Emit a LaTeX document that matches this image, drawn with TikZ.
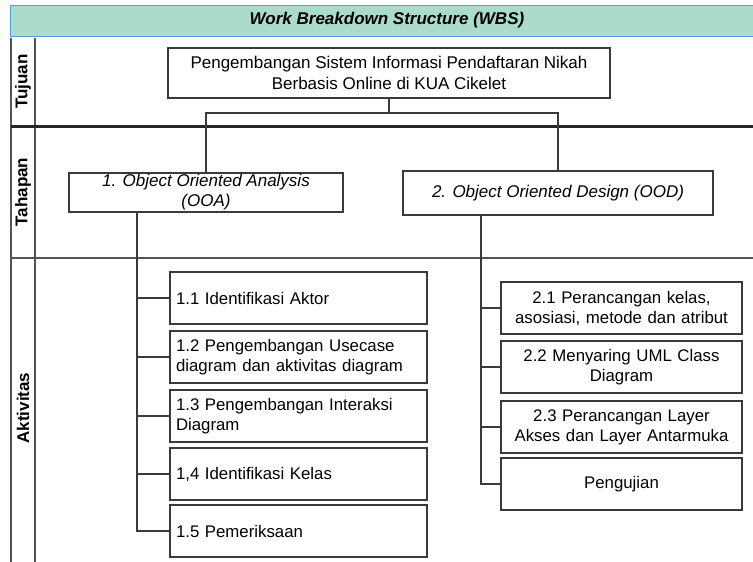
\documentclass[tikz,border=0pt]{standalone}
\usepackage{fontspec}
\setmainfont{Liberation Sans}
\definecolor{hdrfill}{HTML}{AADBCB}
\definecolor{hdrline}{HTML}{5B9BD5}
\definecolor{lanegray}{HTML}{555555}
\definecolor{boxline}{HTML}{3A3A3A}
\begin{document}
\begin{tikzpicture}[x=1pt,y=-1pt,
  every node/.style={font=\fontsize{17}{20.5}\selectfont, inner sep=0pt},
  box/.style={draw=boxline, line width=1.4pt, fill=white, inner sep=0pt},
  actl/.style={box, minimum height=52pt, text width=245pt, inner xsep=6pt, align=left, font=\fontsize{16.8}{19.8}\selectfont},
  actr/.style={box, minimum height=52pt, text width=241pt, align=center, font=\fontsize{16.8}{20}\selectfont},
  conn/.style={draw=boxline, line width=1.3pt},
  lane/.style={draw=lanegray, line width=1.5pt},
  lanelabel/.style={rotate=90, font=\fontsize{17}{20}\selectfont\bfseries}]
\useasboundingbox (0,0) rectangle (753,562);
% header
\path[fill=hdrfill, draw=hdrline, line width=1.6pt] (10.5,5.5) rectangle (756,36.5);
\node[font=\fontsize{17}{20}\selectfont\bfseries\itshape] (title) at (387,20) {Work Breakdown Structure (WBS)};
% lanes
\draw[lane] (11,37.5) -- (11,565);
\draw[lane] (35,37.5) -- (35,565);
\draw[draw=black!85, line width=3pt] (11,126) -- (756,126);
\draw[lane] (11,258) -- (756,258);
\node[lanelabel] (lt) at (23,81.5) {Tujuan};
\node[lanelabel] (lh) at (23,192) {Tahapan};
\node[lanelabel] (la) at (23,408) {Aktivitas};
% top level
\node[box, minimum width=442pt, minimum height=50pt, align=center] (top) at (389,73)
  {Pengembangan Sistem Informasi Pendaftaran Nikah\\Berbasis Online di KUA Cikelet};
\node[box, minimum width=274pt, minimum height=39pt, align=center, font=\fontsize{17}{20}\selectfont\itshape] (ooa) at (206,192.5)
  {1. Object Oriented Analysis\\(OOA)};
\node[box, minimum width=310pt, minimum height=44pt, align=center, font=\fontsize{17}{20}\selectfont\itshape] (ood) at (558,193)
  {2. Object Oriented Design (OOD)};
\coordinate (hy) at (0,113);
\draw[conn] (top.south) -- (top.south |- hy);
\draw[conn] (ooa.north) -- (ooa.north |- hy) -- (ood.north |- hy) -- (ood.north);
% activities OOA
\node[actl] (a1) at (298.5,298) {1.1 Identifikasi Aktor};
\node[actl] (a2) at (298.5,357) {1.2 Pengembangan Usecase\\diagram dan aktivitas diagram};
\node[actl] (a3) at (298.5,416) {1.3 Pengembangan Interaksi\\Diagram};
\node[actl] (a4) at (298.5,474) {1,4 Identifikasi Kelas};
\node[actl] (a5) at (298.5,531) {1.5 Pemeriksaan};
\coordinate (ls) at (137,0);
\draw[conn] (ooa.south -| ls) |- (a5.west);
\foreach \n in {a1,a2,a3,a4}{\draw[conn] (\n.west) -- (\n.west -| ls);}
% activities OOD
\node[actr] (b1) at (621.5,308) {2.1 Perancangan kelas,\\asosiasi, metode dan atribut};
\node[actr] (b2) at (621.5,367) {2.2 Menyaring UML Class\\Diagram};
\node[actr] (b3) at (621.5,427) {2.3 Perancangan Layer\\Akses dan Layer Antarmuka};
\node[actr] (b4) at (621.5,484) {Pengujian};
\coordinate (rs) at (481,0);
\draw[conn] (ood.south -| rs) |- (b4.west);
\foreach \n in {b1,b2,b3}{\draw[conn] (\n.west) -- (\n.west -| rs);}
\end{tikzpicture}
\end{document}
